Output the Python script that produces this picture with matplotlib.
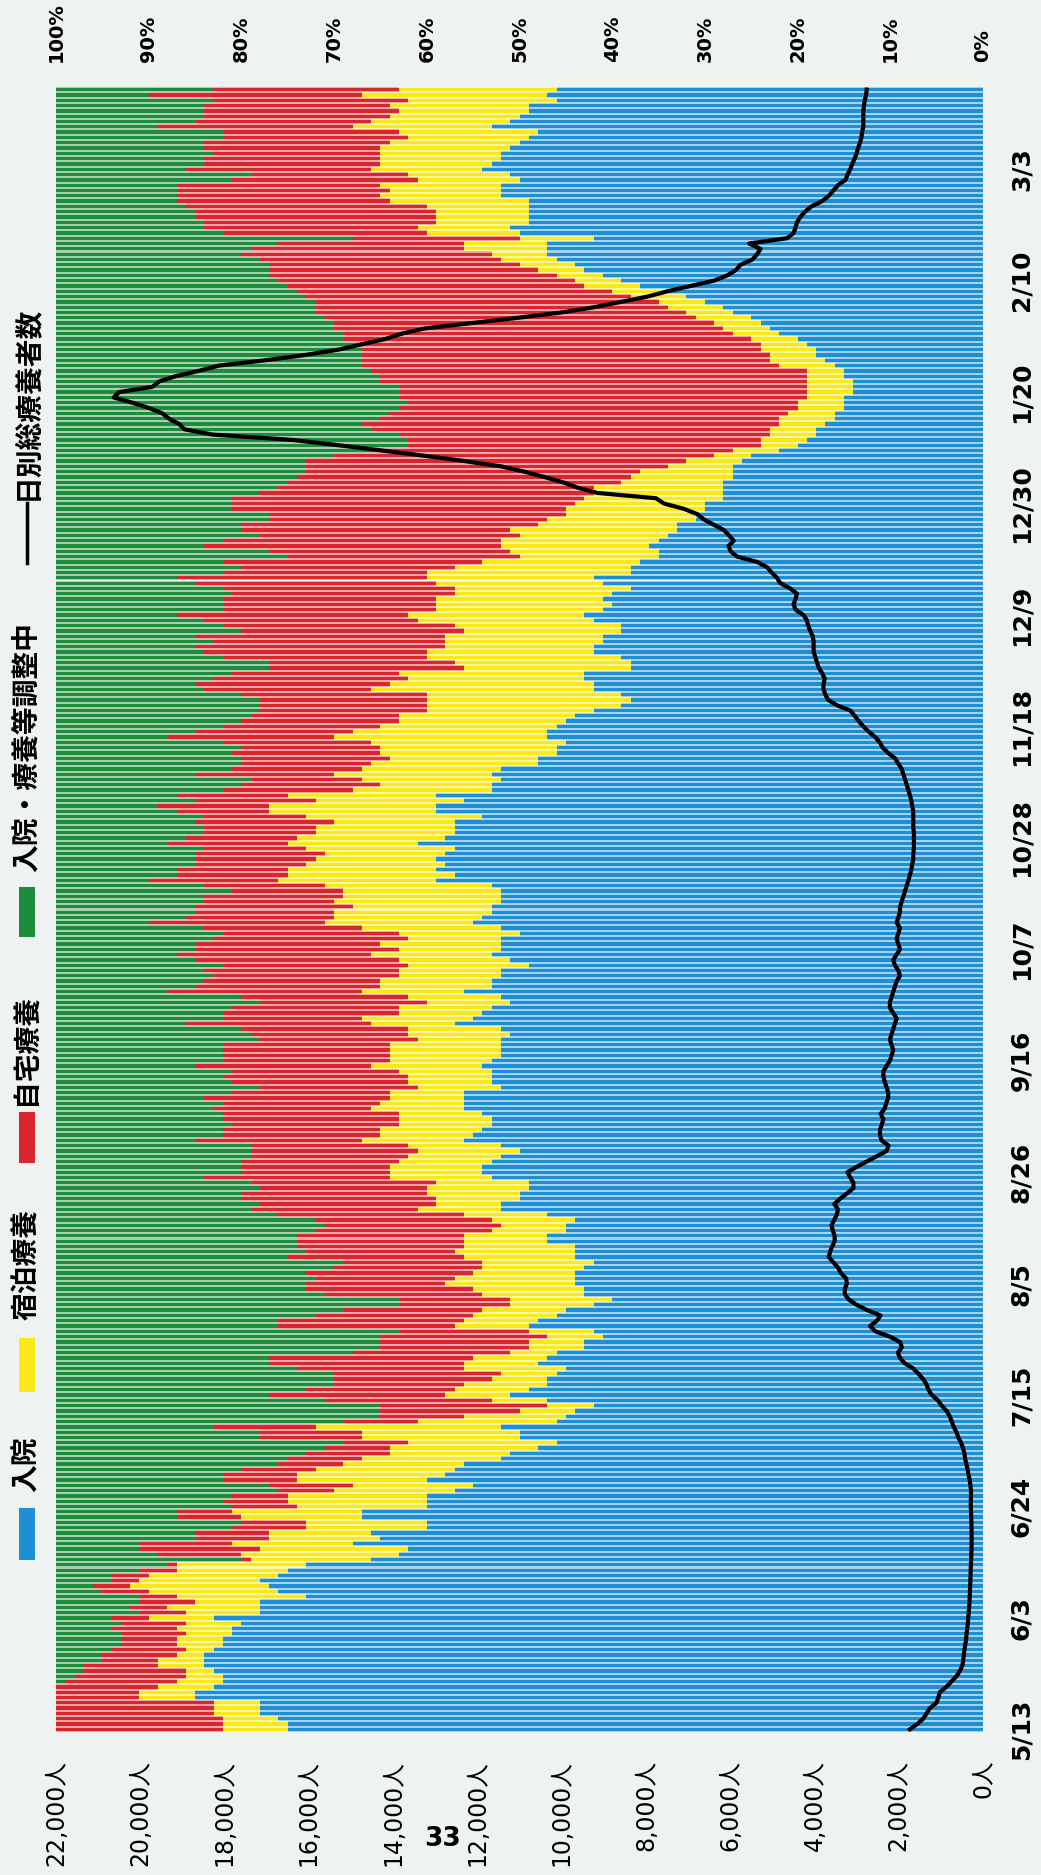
import numpy as np
import pandas as pd
import matplotlib
matplotlib.use('Agg')
import matplotlib.pyplot as plt
from matplotlib.patches import Rectangle
from matplotlib.lines import Line2D
from matplotlib.colors import to_rgb

plt.rcParams['font.family'] = ['DejaVu Sans', 'Noto Sans CJK JP']

# ---- data (one value per day, from 5/13) ----
start_date = '2020-05-13'
date_labels = ['5/13', '6/3', '6/24', '7/15', '8/5', '8/26', '9/16', '10/7',
               '10/28', '11/18', '12/9', '12/30', '1/20', '2/10', '3/3']
pct_ticks = list(range(0, 101, 10))
people_ticks = list(range(0, 22001, 2000))

# 入院 (%)
hosp = [75, 75, 76, 78, 78, 78, 85, 85, 83, 82,
        82, 83, 84, 84, 84, 83, 82, 82, 81, 81,
        80, 83, 78, 78, 78, 73, 76, 77, 78, 76,
        75, 73, 66, 63, 62, 68, 65, 66, 60, 60,
        67, 67, 60, 60, 60, 57, 55, 60, 58, 57,
        56, 52, 51, 48, 46, 50, 50, 52, 46, 45,
        44, 42, 47, 51, 49, 47, 47, 46, 45, 48,
        47, 46, 43, 43, 41, 42, 49, 48, 46, 45,
        42, 40, 43, 43, 44, 44, 44, 43, 42, 44,
        44, 44, 47, 47, 45, 45, 44, 47, 52, 52,
        50, 50, 49, 49, 53, 54, 54, 53, 52, 50,
        52, 56, 55, 54, 53, 53, 54, 56, 56, 56,
        56, 52, 53, 53, 53, 54, 53, 52, 52, 52,
        52, 51, 52, 57, 55, 54, 53, 51, 52, 56,
        53, 53, 52, 52, 49, 51, 53, 52, 52, 52,
        50, 52, 55, 54, 53, 53, 52, 52, 52, 53,
        59, 57, 59, 58, 59, 58, 57, 61, 58, 57,
        57, 57, 54, 59, 59, 56, 59, 53, 53, 52,
        53, 52, 48, 48, 46, 46, 45, 47, 47, 46,
        45, 44, 42, 39, 38, 39, 42, 42, 43, 43,
        38, 38, 39, 42, 42, 41, 41, 39, 39, 42,
        43, 41, 40, 41, 40, 38, 41, 42, 38, 38,
        37, 35, 35, 36, 35, 34, 33, 33, 31, 31,
        30, 30, 28, 28, 28, 28, 27, 27, 27, 26,
        25, 22, 20, 19, 18, 18, 17, 16, 16, 15,
        15, 15, 14, 14, 14, 15, 15, 16, 17, 18,
        18, 19, 20, 22, 23, 24, 25, 27, 28, 30,
        32, 34, 37, 39, 41, 43, 44, 46, 47, 47,
        47, 42, 50, 51, 49, 49, 49, 49, 49, 52,
        52, 52, 50, 51, 54, 53, 52, 52, 51, 50,
        49, 48, 53, 51, 50, 49, 49, 46, 47, 46]

# 宿泊療養 (%)
hotel = [7, 7, 6, 5, 5, 5, 6, 6, 6, 5,
         4, 3, 5, 5, 3, 3, 5, 5, 5, 6,
         6, 7, 8, 10, 7, 14, 14, 15, 13, 14,
         12, 14, 13, 17, 16, 13, 12, 11, 13, 13,
         13, 14, 14, 15, 15, 13, 13, 14, 16, 15,
         13, 15, 13, 16, 16, 17, 17, 20, 15, 11,
         6, 5, 6, 7, 8, 9, 6, 6, 11, 8,
         8, 5, 6, 6, 6, 7, 8, 8, 9, 9,
         9, 11, 11, 12, 14, 13, 11, 11, 12, 12,
         13, 12, 9, 9, 8, 7, 9, 9, 9, 7,
         9, 10, 11, 10, 11, 10, 10, 10, 10, 11,
         10, 11, 10, 11, 10, 10, 9, 10, 9, 8,
         8, 9, 9, 9, 10, 12, 11, 12, 12, 12,
         9, 11, 10, 9, 12, 9, 10, 9, 10, 11,
         12, 12, 11, 11, 13, 12, 13, 11, 13, 10,
         13, 15, 16, 16, 17, 15, 18, 17, 17, 18,
         17, 18, 16, 15, 13, 13, 16, 14, 16, 15,
         15, 13, 19, 18, 18, 16, 16, 15, 12, 15,
         17, 15, 18, 16, 19, 19, 21, 23, 21, 19,
         18, 19, 18, 21, 22, 21, 24, 22, 19, 20,
         18, 19, 21, 18, 16, 17, 17, 17, 18, 19,
         19, 18, 19, 18, 17, 19, 18, 18, 22, 19,
         17, 15, 16, 16, 17, 16, 18, 15, 16, 14,
         15, 14, 15, 14, 14, 11, 11, 10, 7, 6,
         4, 5, 4, 5, 5, 5, 5, 6, 5, 5,
         5, 4, 5, 5, 5, 4, 4, 6, 6, 5,
         6, 5, 5, 5, 5, 5, 6, 5, 6, 5,
         6, 6, 6, 5, 5, 5, 6, 6, 6, 9,
         9, 8, 10, 10, 10, 10, 10, 11, 15, 13,
         12, 13, 11, 11, 12, 12, 13, 13, 14, 14,
         13, 15, 15, 15, 14, 14, 15, 16, 20, 17]

# 自宅療養 (%)
home = [18, 18, 18, 17, 17, 17, 9, 9, 11, 12,
        12, 11, 8, 6, 8, 8, 6, 6, 7, 7,
        7, 4, 5, 4, 6, 4, 5, 4, 3, 4,
        4, 1, 1, 9, 13, 10, 8, 8, 8, 7,
        7, 6, 7, 7, 6, 6, 9, 8, 8, 8,
        7, 8, 9, 7, 7, 11, 11, 11, 8, 9,
        15, 18, 18, 19, 16, 14, 17, 18, 18, 21,
        22, 17, 16, 16, 18, 14, 19, 20, 17, 15,
        12, 12, 17, 18, 15, 15, 18, 16, 15, 19,
        16, 18, 18, 18, 19, 19, 19, 20, 18, 19,
        21, 20, 18, 20, 20, 16, 16, 17, 17, 18,
        17, 18, 17, 17, 18, 19, 19, 17, 17, 20,
        17, 17, 19, 20, 18, 19, 18, 18, 18, 18,
        17, 17, 18, 20, 15, 19, 18, 18, 18, 21,
        20, 19, 20, 21, 20, 22, 21, 22, 20, 21,
        19, 17, 19, 16, 15, 17, 14, 15, 12, 13,
        14, 12, 12, 12, 13, 14, 11, 13, 12, 12,
        12, 15, 11, 10, 12, 13, 12, 14, 15, 12,
        15, 14, 14, 16, 16, 15, 16, 18, 17, 17,
        17, 16, 18, 18, 18, 20, 18, 21, 21, 18,
        21, 20, 22, 24, 27, 25, 27, 24, 25, 23,
        25, 23, 23, 23, 24, 25, 26, 27, 22, 23,
        28, 25, 26, 32, 30, 28, 29, 32, 30, 32,
        36, 37, 38, 36, 34, 36, 36, 36, 39, 41,
        41, 39, 38, 38, 40, 43, 45, 43, 43, 43,
        42, 44, 44, 44, 46, 46, 47, 45, 44, 44,
        43, 44, 44, 42, 42, 41, 40, 40, 38, 37,
        35, 34, 32, 32, 31, 29, 27, 26, 27, 23,
        20, 18, 22, 23, 25, 26, 26, 26, 23, 22,
        23, 22, 20, 17, 20, 19, 19, 18, 19, 20,
        20, 19, 21, 19, 20, 21, 20, 21, 23, 20]

# 日別総療養者数 (人)
total = [1735, 1560, 1420, 1340, 1260, 1105, 1060, 1025, 870, 750,
         630, 550, 490, 470, 455, 440, 420, 400, 390, 375,
         360, 350, 340, 330, 320, 315, 310, 305, 300, 295,
         290, 285, 280, 275, 272, 270, 270, 270, 272, 275,
         280, 285, 290, 290, 285, 285, 300, 315, 345, 365,
         395, 425, 440, 475, 520, 585, 630, 695, 740, 790,
         865, 980, 1070, 1215, 1295, 1340, 1420, 1530, 1655, 1860,
         1970, 2020, 1925, 1970, 2210, 2555, 2680, 2520, 2430, 2750,
         3000, 3185, 3280, 3280, 3230, 3250, 3375, 3440, 3550, 3660,
         3630, 3580, 3520, 3520, 3565, 3595, 3530, 3470, 3440, 3530,
         3390, 3230, 3075, 3075, 3150, 3215, 3000, 2760, 2520, 2290,
         2240, 2410, 2445, 2445, 2400, 2365, 2430, 2330, 2300, 2250,
         2250, 2290, 2330, 2365, 2365, 2290, 2210, 2170, 2130, 2170,
         2210, 2170, 2130, 2090, 2050, 2130, 2210, 2210, 2170, 2130,
         2090, 2050, 1970, 2010, 2090, 2130, 2050, 1970, 2010, 2050,
         2010, 1970, 2050, 2010, 1970, 1970, 1930, 1890, 1850, 1810,
         1770, 1735, 1700, 1680, 1655, 1655, 1640, 1640, 1640, 1640,
         1655, 1655, 1655, 1655, 1680, 1700, 1735, 1770, 1810, 1850,
         1890, 1930, 2010, 2090, 2250, 2380, 2450, 2560, 2710, 2840,
         2950, 3045, 3150, 3470, 3675, 3740, 3785, 3785, 3755, 3815,
         3895, 3940, 3975, 4020, 4020, 4020, 4040, 4100, 4150, 4180,
         4260, 4450, 4495, 4450, 4415, 4575, 4810, 4890, 5015, 5125,
         5360, 5835, 5990, 6040, 5915, 6025, 6150, 6385, 6625, 6780,
         7095, 7570, 7760, 9150, 9620, 9965, 10410, 10880, 11430, 12300,
         13250, 14270, 15300, 16400, 18290, 18955, 19080, 19320, 19475, 19790,
         20185, 20630, 20500, 19710, 19555, 19160, 18610, 18135, 17030, 16085,
         15300, 14745, 14190, 13800, 13250, 12140, 11040, 10015, 9225, 8595,
         7965, 7490, 6940, 6385, 6070, 5865, 5755, 5470, 5360, 5280,
         5550, 4650, 4495, 4450, 4415, 4335, 4225, 4070, 3815, 3660,
         3550, 3440, 3265, 3215, 3150, 3105, 3045, 3000, 2965, 2920,
         2885, 2870, 2840, 2840, 2840, 2840, 2825, 2805, 2775, 2760]

n = len(hosp)
days = np.arange(n)
dates = pd.date_range(start_date, periods=n)
day_str = [f'{d.month}/{d.day}' for d in dates]
date_pos = [day_str.index(s) for s in date_labels]

hosp_a = np.array(hosp, float)
hotel_a = np.array(hotel, float)
home_a = np.array(home, float)
adjust_a = np.clip(100 - hosp_a - hotel_a - home_a, 0, None)  # 入院・療養等調整中

BLUE = '#1e8fd5'
YELLOW = '#fbe81a'
RED = '#d8262c'
GREEN = '#1f8b3c'
BG = '#eef3f2'


def lighten(c, f=0.6):
    r, g, b = to_rgb(c)
    return (r + (1 - r) * f, g + (1 - g) * f, b + (1 - b) * f)


W, H = 1041, 1875
fig = plt.figure(figsize=(W / 100, H / 100), dpi=100, facecolor=BG)
ax = fig.add_axes([56 / W, 1 - 1732 / H, (983 - 56) / W, (1732 - 87) / H])
ax.set_facecolor('white')

left = np.zeros(n)
for vals, col in [(hosp_a, BLUE), (hotel_a, YELLOW), (home_a, RED), (adjust_a, GREEN)]:
    ax.barh(days, vals, left=left, height=1.0, color=lighten(col), linewidth=0)
    ax.barh(days, vals, left=left, height=0.62, color=col, linewidth=0)
    left += vals

# twin axis for the people count line (created first: twiny resets tick sides)
ax2 = ax.twiny()
ax2.plot(total, days, color='black', lw=3, solid_joinstyle='round')
ax2.set_xlim(22000, 0)
ax2.set_ylim(-0.5, n - 0.5)
ax2.xaxis.set_ticks_position('bottom')
ax2.xaxis.set_label_position('bottom')
ax2.set_xticks(people_ticks)
ax2.set_xticklabels([f'{v:,}人' for v in people_ticks], rotation=90, fontsize=17)
ax2.tick_params(axis='x', which='both', top=False, labeltop=False,
                bottom=True, labelbottom=True, length=0, pad=20)

ax.set_xlim(100, 0)
ax.set_ylim(-0.5, n - 0.5)
ax.xaxis.set_ticks_position('top')
ax.set_xticks(pct_ticks)
ax.set_xticklabels([f'{p}%' for p in pct_ticks], rotation=90,
                   fontsize=14, fontweight='bold')
ax.tick_params(axis='x', top=True, labeltop=True, bottom=False, labelbottom=False,
               length=0, pad=18)
ax.yaxis.tick_right()
ax.set_yticks(date_pos)
ax.set_yticklabels(date_labels, rotation=90, fontsize=18, fontweight='bold', va='center')
ax.tick_params(axis='y', length=0, pad=19)

for a in (ax, ax2):
    for s in a.spines.values():
        s.set_visible(False)

# ---- legend (rotated, along the left edge) ----
def fx(x):
    return x / W


def fy(y):
    return 1 - y / H


legend_items = [
    ('入院', BLUE, 1508, 1560, 1492),
    ('宿泊療養', YELLOW, 1338, 1392, 1320),
    ('自宅療養', RED, 1112, 1163, 1105),
    ('入院・療養等調整中', GREEN, 887, 937, 872),
]
for label, col, top, bot, text_bottom in legend_items:
    fig.add_artist(Rectangle((fx(19), fy(bot)), 16 / W, (bot - top) / H,
                             transform=fig.transFigure, color=col, lw=0))
    fig.text(fx(27), fy(text_bottom), label, rotation=90, ha='center', va='bottom',
             fontsize=20, fontweight='bold', family=['Noto Sans CJK JP'])

fig.add_artist(Line2D([fx(27), fx(27)], [fy(563), fy(503)], transform=fig.transFigure,
                      color='black', lw=2.5))
fig.text(fx(27), fy(500), '日別総療養者数', rotation=90, ha='center', va='bottom',
         fontsize=20, fontweight='bold', family=['Noto Sans CJK JP'])

# page number printed on the scan
fig.text(fx(443), fy(1839), '33', ha='center', va='center', fontsize=19, fontweight='bold')

fig.savefig('out.png', dpi=100, facecolor=BG)
